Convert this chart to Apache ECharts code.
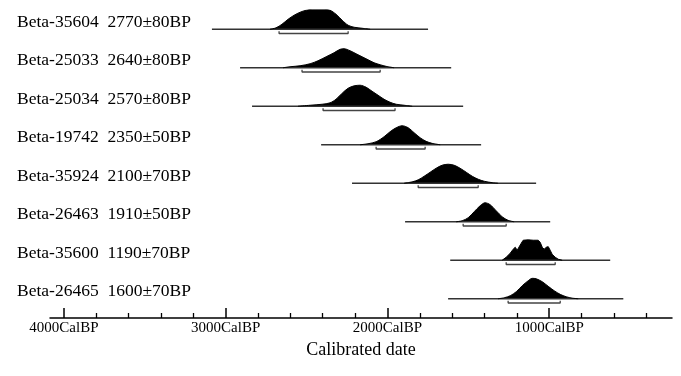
<!DOCTYPE html>
<html>
<head>
<meta charset="utf-8">
<script src="https://cdn.jsdelivr.net/npm/echarts@6/dist/echarts.min.js"></script>
<style>
html, body { margin: 0; padding: 0; background: #fff; }
#chart { width: 681px; height: 376px; }
</style>
</head>
<body>
<div id="chart"></div>
<script>
// samples, top to bottom
var labels = ['Beta-35604  2770±80BP', 'Beta-25033  2640±80BP', 'Beta-25034  2570±80BP', 'Beta-19742  2350±50BP',
	'Beta-35924  2100±70BP', 'Beta-26463  1910±50BP', 'Beta-35600  1190±70BP', 'Beta-26465  1600±70BP'];
// full calibrated range (CalBP)
var ranges = [[3085, 1749], [2911, 1606], [2837, 1532], [2410, 1421], [2219, 1081], [1891, 994], [1612, 623], [1625, 542]];
// 1 sigma range (CalBP)
var sigma = [[2670, 2243], [2528, 2045], [2398, 1953], [2070, 1767], [1810, 1439], [1532, 1266], [1266, 963], [1254, 932]];
var majorTicks = [4000, 3000, 2000, 1000];
var minorTicks = [3800, 3600, 3400, 3200, 2800, 2600, 2400, 2200, 1800, 1600, 1400, 1200, 800, 600, 400];

// probability curves [CalBP, relative probability]
var p35604 = [[2726, 0], [2689, .07], [2652, .25], [2614, .5], [2577, .7], [2540, .85], [2503, .95], [2466, 1], [2429, 1],
	[2392, 1], [2355, .95], [2318, .75], [2280, .45], [2243, .2], [2206, .1], [2157, .05], [2107, 0]];
var p25033 = [[2645, 0], [2602, .05], [2540, .1], [2478, .2], [2429, .35], [2379, .55], [2330, .75], [2293, .92], [2268, .95],
	[2231, .85], [2194, .7], [2157, .55], [2120, .4], [2083, .25], [2045, .15], [2008, .07], [1959, 0]];
var p25034 = [[2553, 0], [2478, .05], [2404, .1], [2355, .17], [2318, .35], [2280, .65], [2243, .9], [2206, 1.02], [2169, 1.05],
	[2132, .95], [2095, .75], [2058, .55], [2021, .35], [1984, .2], [1946, .1], [1897, .05], [1847, 0]];
var p19742 = [[2169, 0], [2120, .05], [2070, .15], [2021, .4], [1984, .65], [1946, .85], [1909, .95], [1872, .85], [1835, .6],
	[1798, .35], [1761, .17], [1724, .07], [1674, 0]];
var p35924 = [[1897, 0], [1847, .07], [1810, .17], [1773, .35], [1736, .55], [1699, .75], [1662, .9], [1625, .95], [1588, .9],
	[1551, .75], [1513, .55], [1476, .35], [1439, .2], [1402, .1], [1353, .03], [1316, 0]];
var p26463 = [[1575, 0], [1538, .05], [1501, .2], [1464, .5], [1427, .8], [1396, .95], [1365, .85], [1328, .55], [1291, .25],
	[1254, .07], [1217, 0]];
var p35600 = [[1291, 0], [1266, .15], [1241, .35], [1223, .55], [1210, .65], [1198, .5], [1186, .55], [1173, .85], [1161, 1],
	[1130, 1.02], [1099, 1], [1068, 1], [1056, .9], [1043, .65], [1031, .55], [1019, .65], [1006, .68], [994, .5], [982, .3],
	[963, .15], [944, .05], [920, 0]];
var p26465 = [[1316, 0], [1278, .05], [1241, .15], [1204, .35], [1167, .65], [1130, .9], [1105, 1.02], [1081, 1], [1043, .85],
	[1006, .62], [969, .4], [932, .22], [895, .1], [858, .03], [821, 0]];
var curves = [p35604, p25033, p25034, p19742, p35924, p26463, p35600, p26465];

var FONT = 'Liberation Serif';
var H = 0.52; // curve height for probability 1, in row units

var series = [];
for (var i = 0; i < labels.length; i++) {
	var v = labels.length - 1 - i;
	series.push({
		type: 'line', silent: true, symbol: 'none',
		lineStyle: { color: '#333', width: 1.3 },
		data: [[ranges[i][0], v], [ranges[i][1], v]]
	});
	series.push({
		type: 'line', silent: true, symbol: 'none',
		smooth: i == 6 ? false : 0.3,
		lineStyle: { color: '#000', width: 1 },
		areaStyle: { color: '#000', opacity: 1, origin: v },
		data: curves[i].map(function(d) { return [d[0], v + d[1] * H]; })
	});
	series.push({
		type: 'line', silent: true, symbol: 'none',
		lineStyle: { color: '#444', width: 1.3 },
		data: [[sigma[i][0], v - 0.05], [sigma[i][0], v - 0.11], [sigma[i][1], v - 0.11], [sigma[i][1], v - 0.05]]
	});
}

echarts.init(document.getElementById('chart')).setOption({
	animation: false,
	textStyle: { fontFamily: FONT },
	grid: { left: 50, right: 9, top: 10, bottom: 58 },
	xAxis: [{
		type: 'value', inverse: true, min: 241, max: 4086, position: 'bottom',
		name: 'Calibrated date', nameLocation: 'middle', nameGap: 17,
		nameTextStyle: { fontFamily: FONT, fontSize: 18, color: '#000' },
		splitLine: { show: false },
		axisLine: { onZero: false, lineStyle: { color: '#000', width: 1.5 } },
		axisTick: { customValues: majorTicks, inside: true, length: 10, lineStyle: { color: '#000', width: 1.5 } },
		axisLabel: {
			customValues: majorTicks, margin: 3, fontFamily: FONT, fontSize: 15, color: '#000',
			formatter: function(val) { return val + 'CalBP'; }
		}
	}, {
		type: 'value', inverse: true, min: 241, max: 4086, position: 'bottom',
		splitLine: { show: false },
		axisLine: { show: false, onZero: false },
		axisTick: { customValues: minorTicks, inside: true, length: 5, lineStyle: { color: '#000', width: 1.3 } },
		axisLabel: { show: false }
	}],
	yAxis: {
		type: 'value', min: -0.5, max: 7.5,
		splitLine: { show: false },
		axisLine: { show: false },
		axisTick: { show: false },
		axisLabel: {
			customValues: [7, 6, 5, 4, 3, 2, 1, 0],
			align: 'left', verticalAlign: 'bottom', lineHeight: 14, margin: 33,
			fontFamily: FONT, fontSize: 17.5, color: '#000',
			formatter: function(val) { return labels[labels.length - 1 - val]; }
		}
	},
	series: series
});
</script>
</body>
</html>
